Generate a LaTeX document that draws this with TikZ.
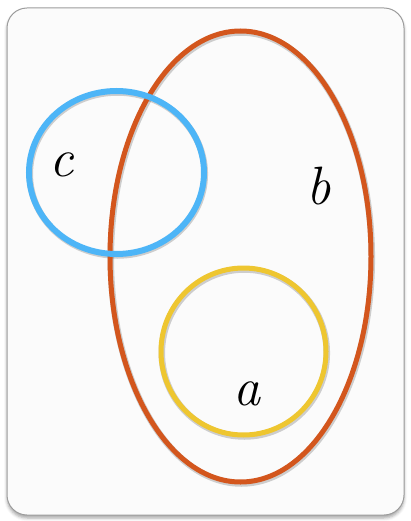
\documentclass[tikz,border=0pt]{standalone}
\usetikzlibrary{shapes.geometric,shadows,shadows.blur}
\definecolor{setblue}{HTML}{4DB5F7}
\definecolor{setorange}{HTML}{D3561D}
\definecolor{setyellow}{HTML}{EEC630}
\definecolor{boxgray}{HTML}{9C9C9C}
\definecolor{boxfill}{HTML}{FBFBFB}
\begin{document}
\begin{tikzpicture}[x=1pt,y=-1pt,
  setline/.style={ellipse,draw,line width=5pt,inner sep=0pt},
  setshade/.style={black,opacity=0.18,line width=6.5pt},
  lab/.style={inner sep=0pt,font=\fontsize{54}{54}\selectfont\itshape}]
\useasboundingbox (0,0) rectangle (411,521);
\node[draw=boxgray,line width=1pt,fill=boxfill,rounded corners=20pt,
  minimum width=397pt,minimum height=507pt,inner sep=0pt,
  blur shadow={shadow xshift=0pt,shadow yshift=-3pt,shadow blur radius=3pt,shadow opacity=35}]
  (frame) at (205.5,261.5) {};
\coordinate (bs) at (241.3,258);
\coordinate (cs) at (117.3,174);
\coordinate (as) at (244.3,353);
\draw[setshade] (bs) ellipse [x radius=130.5, y radius=225.5];
\draw[setshade] (cs) ellipse [x radius=87.5, y radius=81.5];
\draw[setshade] (as) ellipse [x radius=82.5, y radius=83.5];
\node[setline,draw=setorange,minimum width=261pt,minimum height=451pt] (b) at (240.5,256.5) {};
\node[setline,draw=setblue,line width=6pt,minimum width=175pt,minimum height=163pt] (c) at (116.5,172.5) {};
\node[setline,draw=setyellow,minimum width=165pt,minimum height=167pt] (a) at (243.5,351.5) {};
\node[lab] (lc) at (62,165) {c};
\node[lab] (lb) at (319,186) {b};
\node[lab] (la) at (247,394) {a};
\end{tikzpicture}
\end{document}
